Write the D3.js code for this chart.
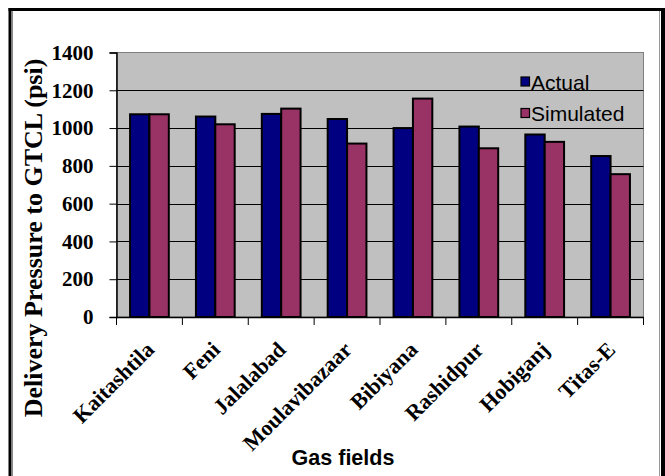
<!DOCTYPE html>
<html lang="en">
<head>
    <meta charset="UTF-8">
    <title>Delivery Pressure to GTCL</title>
    <script type="text/javascript" src="https://cdn.jsdelivr.net/npm/d3@7"></script>
    <style>
        body { margin: 0; background: #fff; }
    </style>
</head>
<body>
    <script type="text/javascript">

        //Width and height
        var w = 665;
        var h = 476;

        //data
        var fields = ["Kaitashtila", "Feni", "Jalalabad", "Moulavibazaar", "Bibiyana", "Rashidpur", "Hobiganj", "Titas-E"];
        var seriesNames = ["Actual", "Simulated"];
        var actual = [1073, 1061, 1075, 1048, 1000, 1008, 966, 852];
        var simulated = [1073, 1020, 1103, 918, 1156, 893, 927, 756];
        var yTicks = [0, 200, 400, 600, 800, 1000, 1200, 1400];
        var colors = ["#000080", "#993366"];

        //plot area (window.top is reserved, so use other names)
        var plotL = 116.5, plotR = 643.5, plotT = 52.5, plotB = 317;

        var xScale = d3.scaleBand()
                        .domain(fields)
                        .range([plotL, plotR]);

        //bars inside one category
        var x1 = d3.scaleBand()
                        .domain(seriesNames)
                        .range([0, xScale.bandwidth()])
                        .paddingOuter(0.7);

        var yScale = d3.scaleLinear()
                        .domain([0, 1400])
                        .range([plotB, plotT]);

        var svg = d3.select("body")
                        .append("svg")
                        .attr("width", w)
                        .attr("height", h);

        //outer frame
        svg.append("line").attr("x1", 10).attr("x2", 10).attr("y1", 8).attr("y2", h)
            .attr("stroke", "#000").attr("stroke-width", 3);
        svg.append("line").attr("x1", 8.5).attr("x2", w).attr("y1", 9.5).attr("y2", 9.5)
            .attr("stroke", "#000").attr("stroke-width", 3);
        svg.append("line").attr("x1", 663).attr("x2", 663).attr("y1", 8).attr("y2", h)
            .attr("stroke", "#000").attr("stroke-width", 4);
        svg.append("line").attr("x1", 12.5).attr("x2", 12.5).attr("y1", 11).attr("y2", h)
            .attr("stroke", "#888").attr("stroke-width", 1);
        svg.append("line").attr("x1", 659.5).attr("x2", 659.5).attr("y1", 11).attr("y2", h)
            .attr("stroke", "#999").attr("stroke-width", 1);

        //plot background
        svg.append("rect")
            .attr("x", plotL)
            .attr("y", plotT)
            .attr("width", plotR - plotL)
            .attr("height", plotB - plotT)
            .attr("fill", "#C0C0C0")
            .attr("stroke", "#808080")
            .attr("stroke-width", 1);

        //gridlines
        svg.append("g")
            .selectAll("line")
            .data(yTicks.slice(1, -1))
            .enter()
            .append("line")
            .attr("x1", plotL)
            .attr("x2", plotR)
            .attr("y1", function(d) { return Math.round(yScale(d)) + 0.5; })
            .attr("y2", function(d) { return Math.round(yScale(d)) + 0.5; })
            .attr("stroke", "#000")
            .attr("stroke-width", 1);

        //bars
        var groups = svg.append("g")
            .selectAll("g")
            .data(fields)
            .enter()
            .append("g")
            .attr("transform", function(d) { return "translate(" + xScale(d) + ",0)"; });

        groups.selectAll("rect")
            .data(function(d, i) {
                return [
                    { name: "Actual", value: actual[i], color: colors[0] },
                    { name: "Simulated", value: simulated[i], color: colors[1] }
                ];
            })
            .enter()
            .append("rect")
            .attr("x", function(d) { return x1(d.name); })
            .attr("y", function(d) { return yScale(d.value); })
            .attr("width", x1.bandwidth())
            .attr("height", function(d) { return plotB - yScale(d.value); })
            .attr("fill", function(d) { return d.color; })
            .attr("stroke", "#000")
            .attr("stroke-width", 2);

        //y axis
        var yAxis = d3.axisLeft(yScale)
                        .tickValues(yTicks)
                        .tickSize(7)
                        .tickPadding(16)
                        .tickFormat(d3.format("d"));

        var gy = svg.append("g")
            .attr("transform", "translate(" + plotL + ",0)")
            .call(yAxis);
        gy.select(".domain").attr("stroke", "#000").attr("stroke-width", 1.5);
        gy.selectAll(".tick line").attr("stroke", "#000");
        gy.selectAll(".tick text")
            .attr("font-family", "'Liberation Serif', 'Times New Roman', serif")
            .attr("font-weight", "bold")
            .attr("font-size", 21)
            .attr("fill", "#000");

        //x axis
        var xAxis = d3.axisBottom(xScale).tickSize(0).tickFormat("");
        var gx = svg.append("g")
            .attr("transform", "translate(0," + plotB + ")")
            .call(xAxis);
        gx.select(".domain").attr("stroke", "#000").attr("stroke-width", 1.5);

        //ticks at the category borders
        svg.append("g")
            .selectAll("line")
            .data(fields.concat(["end"]))
            .enter()
            .append("line")
            .attr("x1", function(d, i) { return i < fields.length ? xScale(d) : plotR; })
            .attr("x2", function(d, i) { return i < fields.length ? xScale(d) : plotR; })
            .attr("y1", plotB)
            .attr("y2", plotB + 8)
            .attr("stroke", "#000")
            .attr("stroke-width", 1);

        //category labels
        svg.append("g")
            .selectAll("text")
            .data(fields)
            .enter()
            .append("text")
            .attr("transform", function(d) {
                return "translate(" + (xScale(d) + xScale.bandwidth() / 2 + 6) + ",351) rotate(-45)";
            })
            .attr("text-anchor", "end")
            .attr("font-family", "'Liberation Serif', 'Times New Roman', serif")
            .attr("font-weight", "bold")
            .attr("font-size", 22)
            .text(function(d) { return d; });

        //axis titles
        svg.append("text")
            .attr("transform", "translate(42,238) rotate(-90)")
            .attr("text-anchor", "middle")
            .attr("font-family", "'Liberation Serif', 'Times New Roman', serif")
            .attr("font-weight", "bold")
            .attr("font-size", 26)
            .text("Delivery Pressure to GTCL (psi)");

        svg.append("text")
            .attr("x", 343)
            .attr("y", 465)
            .attr("text-anchor", "middle")
            .attr("font-family", "'Liberation Sans', Arial, sans-serif")
            .attr("font-weight", "bold")
            .attr("font-size", 21.5)
            .text("Gas fields");

        //legend
        var legend = svg.append("g")
            .selectAll("g")
            .data(seriesNames)
            .enter()
            .append("g")
            .attr("transform", function(d, i) { return "translate(521," + (77 + i * 31.5) + ")"; });

        legend.append("rect")
            .attr("width", 8.5)
            .attr("height", 9)
            .attr("fill", function(d, i) { return colors[i]; })
            .attr("stroke", "#000")
            .attr("stroke-width", 1.2);

        legend.append("text")
            .attr("x", 10)
            .attr("y", 12.5)
            .attr("font-family", "'Liberation Sans', Arial, sans-serif")
            .attr("font-size", 21)
            .attr("fill", "#000")
            .text(function(d) { return d; });

    </script>
</body>
</html>
